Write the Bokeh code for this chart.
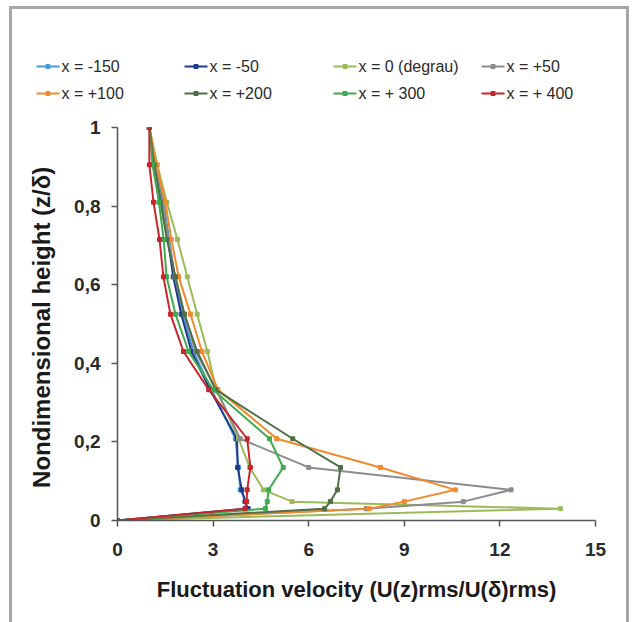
from bokeh.plotting import figure
from bokeh.models import FixedTicker, Range1d
from bokeh.layouts import column
from bokeh.core.properties import value
from bokeh.embed import file_html
from bokeh.resources import INLINE

heights = [1.0, 0.905, 0.81, 0.715, 0.62, 0.525, 0.43, 0.333, 0.208, 0.135, 0.078, 0.048, 0.03, 0.0]

s_m150 = [1.0, 1.2, 1.45, 1.62, 1.8, 2.05, 2.38, 2.95, 3.7, 3.8, 3.85, 4.05, 4.0, 0.0]
s_m50 = [1.0, 1.18, 1.4, 1.58, 1.75, 2.0, 2.32, 2.9, 3.75, 3.77, 3.9, 4.0, 4.1, 0.0]
s_0 = [1.0, 1.25, 1.55, 1.88, 2.19, 2.5, 2.82, 3.1, 3.8, 4.15, 4.58, 5.48, 13.9, 0.0]
s_p50 = [1.0, 1.2, 1.42, 1.6, 1.8, 2.1, 2.45, 3.1, 3.85, 6.0, 12.35, 10.85, 7.8, 0.0]
s_p100 = [1.0, 1.22, 1.5, 1.69, 1.92, 2.29, 2.65, 3.15, 5.0, 8.25, 10.6, 9.0, 7.9, 0.0]
s_p200 = [1.0, 1.15, 1.35, 1.55, 1.82, 2.1, 2.5, 3.08, 5.5, 7.0, 6.9, 6.68, 6.5, 0.0]
s_p300 = [1.0, 1.1, 1.3, 1.45, 1.54, 1.82, 2.23, 3.0, 4.77, 5.2, 4.74, 4.7, 4.64, 0.0]
s_p400 = [1.0, 1.0, 1.13, 1.32, 1.44, 1.66, 2.07, 2.86, 4.07, 4.17, 4.07, 4.05, 4.0, 0.0]

labels = ["x = -150", "x = -50", "x = 0 (degrau)", "x = +50",
          "x = +100", "x = +200", "x = + 300", "x = + 400"]
series = [s_m150, s_m50, s_0, s_p50, s_p100, s_p200, s_p300, s_p400]
colors = ["#4A9BD5", "#1F3A8A", "#9BBB59", "#8C8C8C",
          "#F08A2C", "#4F6F46", "#3FAA4E", "#C8262C"]

x_ticks = [0, 3, 6, 9, 12, 15]
y_ticks = [0, 0.2, 0.4, 0.6, 0.8, 1]
y_tick_labels = ["0", "0,2", "0,4", "0,6", "0,8", "1"]

OX, OY = 12, 9          # canvas offset of the bordered box content
TOP_H = 100
W = 614

# ---- legend strip (its data coordinates equal page pixels) ----
leg = figure(width=W, height=TOP_H, output_backend="svg", toolbar_location=None,
             x_range=Range1d(OX, OX + W), y_range=Range1d(OY + TOP_H, OY),
             x_axis_type=None, y_axis_type=None)
leg.min_border_left = leg.min_border_right = 0
leg.min_border_top = leg.min_border_bottom = 0
leg.frame_align = False
leg.outline_line_color = None
leg.xgrid.visible = False
leg.ygrid.visible = False

col_x = [36, 184, 333, 481]
row_y = [66, 93]
for i, (lab, col) in enumerate(zip(labels, colors)):
    cx = col_x[i % 4]
    cy = row_y[i // 4]
    leg.line([cx, cx + 23], [cy, cy], line_color=col, line_width=2)
    leg.scatter([cx + 11.5], [cy], marker="square", size=4, fill_color=col, line_color=col)
    leg.text([cx + 25], [cy], text=[lab], text_baseline="middle", text_align="left",
             text_font=value("Liberation Sans"), text_font_size="16px",
             text_color="#2a2a2a")

# ---- main chart ----
MAIN_H = 516
p = figure(width=W, height=MAIN_H, output_backend="svg", toolbar_location=None,
           x_range=(0, 15), y_range=(0, 1))
p.frame_align = False
p.min_border_left = 117 - OX
p.min_border_right = W - (595 - OX)
p.min_border_top = 127 - (OY + TOP_H)
p.min_border_bottom = MAIN_H - (520 - OY - TOP_H)
p.outline_line_color = None
p.xgrid.visible = False
p.ygrid.visible = False

for lab, ys, col in zip(labels, series, colors):
    p.line(ys, heights, line_color=col, line_width=2)
    p.scatter(ys, heights, marker="square", size=4, fill_color=col, line_color=col)

for ax in (p.xaxis[0], p.yaxis[0]):
    ax.axis_line_color = "#555555"
    ax.axis_line_width = 1.5
    ax.major_tick_line_color = "#555555"
    ax.major_tick_line_width = 1.5
    ax.major_tick_out = 6
    ax.major_tick_in = 0
    ax.minor_tick_line_color = None
    ax.major_label_text_font = "Liberation Sans"
    ax.major_label_text_font_style = "bold"
    ax.major_label_text_font_size = "19px"
    ax.major_label_text_color = "#2a2a2a"
    ax.axis_label_text_font = "Liberation Sans"
    ax.axis_label_text_font_style = "bold"
    ax.axis_label_text_color = "#1a1a1a"

p.xaxis.axis_label_text_font_size = "22px"
p.yaxis.axis_label_text_font_size = "24px"
p.xaxis.ticker = FixedTicker(ticks=x_ticks)
p.yaxis.ticker = FixedTicker(ticks=y_ticks)
p.yaxis.major_label_overrides = {t: l for t, l in zip(y_ticks, y_tick_labels)}
p.xaxis.major_label_standoff = 16
p.yaxis.major_label_standoff = 11
p.xaxis.axis_label = "Fluctuation velocity (U(z)rms/U(δ)rms)"
p.yaxis.axis_label = "Nondimensional  height (z/δ)"
p.xaxis.axis_label_standoff = 18
p.yaxis.axis_label_standoff = 16

layout = column(leg, p, spacing=0,
                styles={"margin-left": "9px", "margin-top": "6px",
                        "border": "3px solid #A6A6A6"})

open("out.html", "w").write(file_html(layout, INLINE))
